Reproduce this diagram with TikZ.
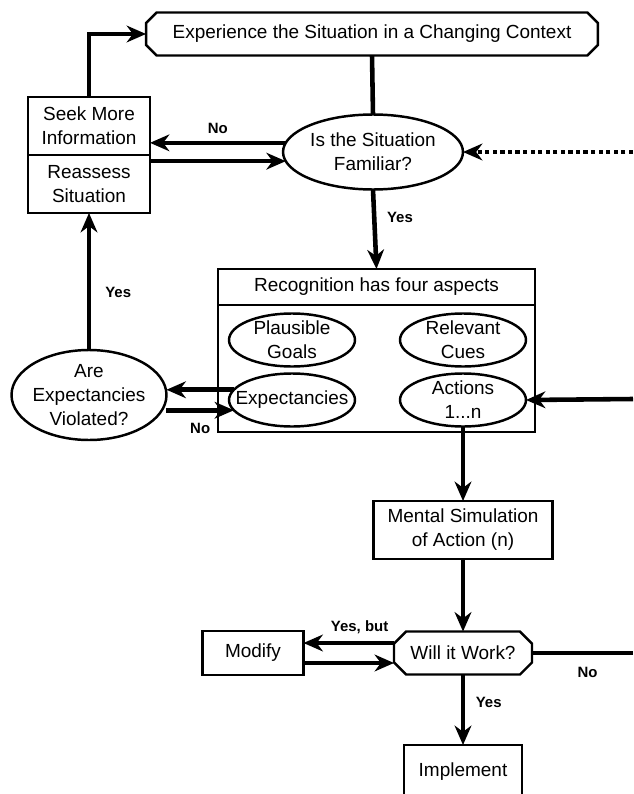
\documentclass[tikz,border=0pt]{standalone}
\usepackage{fontspec}
\setmainfont{Liberation Sans}
\usetikzlibrary{positioning,arrows.meta,shapes.geometric}

% contour a pans coupes autour d'un noeud
\newcommand{\chamfer}[2]{%
  \draw[line width=1.4pt] ([xshift=#2]#1.north west) -- ([xshift=-#2]#1.north east)
    -- ([yshift=-#2]#1.north east) -- ([yshift=#2]#1.south east)
    -- ([xshift=-#2]#1.south east) -- ([xshift=#2]#1.south west)
    -- ([yshift=#2]#1.south west) -- ([yshift=-#2]#1.north west) -- cycle;}

\begin{document}
\begin{tikzpicture}[x=0.02cm,y=-0.02cm,
    txt/.style={font=\fontsize{10.8}{13.6}\selectfont,align=center,inner sep=1pt},
    box/.style={txt,rectangle,draw,line width=1.4pt,outer sep=0pt},
    oval/.style={txt,ellipse,draw,line width=1.4pt,outer sep=0pt,inner sep=0pt},
    aspect/.style={oval,minimum width=2.52cm,minimum height=1.06cm,inner ysep=-0.2cm,inner xsep=-0.25cm},
    octo/.style={txt,rectangle,outer sep=0pt},
    lbl/.style={font=\fontsize{8.5}{10}\selectfont\bfseries,inner sep=1pt},
    flow/.style={-{Stealth[length=11pt,width=9.5pt,inset=3.5pt]},line width=2.6pt},
    link/.style={line width=2.6pt}]

\useasboundingbox (0,0) rectangle (633,794);
\clip (0,0) rectangle (633,794);

% Situation
\node[octo,minimum width=9.04cm,minimum height=0.86cm] (exp) at (372,34) {Experience the Situation in a Changing Context};
\chamfer{exp}{0.21cm}
\node[oval,minimum width=3.6cm,minimum height=1.5cm] (fam) at (373,152) {Is the Situation\\Familiar?};
\node[box,minimum width=2.44cm,minimum height=1.16cm] (seek) at (89,126) {Seek More\\Information};
\node[box,minimum width=2.44cm,minimum height=1.16cm,below=0pt of seek] (reas) {Reassess\\Situation};
\coordinate (din) at (633,152);

% Reconnaissance
\node[box,minimum width=6.34cm,minimum height=3.26cm] (recog) at (376.5,350.5) {};
\node[box,minimum width=6.34cm,minimum height=0.72cm,below=0pt of recog.north] (title) {Recognition has four aspects};
\node[aspect] (goals) at (292,340) {Plausible\\Goals};
\node[aspect] (cues) at (463,340) {Relevant\\Cues};
\node[aspect] (expect) at (292,400) {Expectancies};
\node[aspect] (act) at (463,400) {Actions\\1...n};
\node[oval,minimum width=3.1cm,minimum height=1.8cm,inner ysep=-0.15cm,inner xsep=-0.1cm] (viol) at (89,395) {Are\\Expectancies\\Violated?};
\coordinate (ain) at (633,399);

% Simulation
\node[box,minimum width=3.58cm,minimum height=1.16cm] (sim) at (463,530) {Mental Simulation\\of Action (n)};
\node[octo,minimum width=2.76cm,minimum height=0.86cm] (work) at (463,653) {Will it Work?};
\chamfer{work}{0.24cm}
\node[box,minimum width=2.02cm,minimum height=0.88cm] (mod) at (253,653) {Modify};
\node[box,minimum width=2.36cm,minimum height=1.08cm] (impl) at (463,772) {Implement};
\coordinate (nout) at (633,653);

% Liaisons
\draw[flow] (seek.north) |- (exp.west);
\draw[link] (exp.south) -- (fam.north);
\draw[flow] (fam.174) -- node[lbl,above=3pt] {No} (fam.174 -| seek.east);
\draw[flow] (fam.186 -| reas.east) -- (fam.186);
\draw[flow,dash pattern=on 2.4pt off 1.9pt] (din) -- (fam.east);
\draw[flow] (fam.south) -- node[lbl,right=5pt,pos=0.35] {Yes} (title.north);
\draw[flow] (viol.north) -- node[lbl,right=7pt,pos=0.42] {Yes} (reas.south);
\draw[flow] (expect.170) -- (expect.170 -| viol.east);
\draw[flow] (expect.190 -| viol.east) -- node[lbl,below=5pt] {No} (expect.190);
\draw[flow] (ain) -- (act.east);
\draw[flow] (act.south) -- (sim.north);
\draw[flow] (sim.south) -- (work.north);
\draw[flow] ([yshift=0.2cm]work.west) -- node[lbl,above=3pt,pos=0.38] {Yes, but} ([yshift=0.2cm]work.west -| mod.east);
\draw[flow] ([yshift=-0.2cm]mod.east) -- ([yshift=-0.2cm]mod.east -| work.west);
\draw[link] (work.east) -- node[lbl,below=6pt,pos=0.55] {No} (nout);
\draw[flow] (work.south) -- node[lbl,right=5pt,pos=0.4] {Yes} (impl.north);

\end{tikzpicture}
\end{document}
